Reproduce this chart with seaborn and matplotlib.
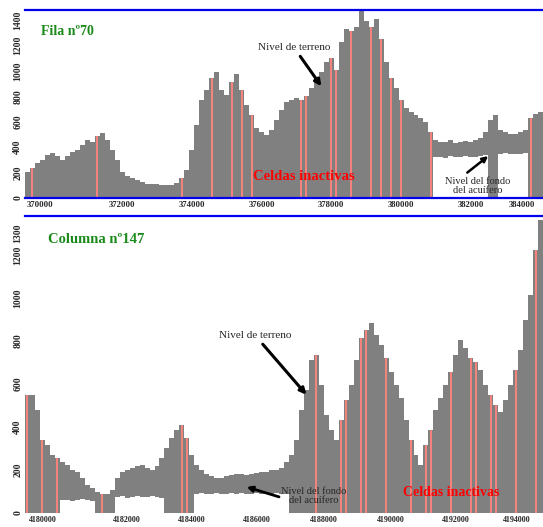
import numpy as np
import pandas as pd
import matplotlib
matplotlib.use("Agg")
import matplotlib.pyplot as plt
import seaborn as sns

sns.set_style("white")
plt.rcParams["font.family"] = ["Liberation Serif", "DejaVu Serif"]

# ---------------- data: Fila nº70 ----------------
fila_terreno = [205, 237, 277, 300, 340, 356, 332, 300, 332, 363,
                379, 419, 458, 442, 490, 514, 458, 379, 300, 205,
                174, 158, 142, 126, 111, 111, 111, 103, 103, 103,
                119, 158, 221, 379, 577, 774, 853, 948, 988, 853,
                814, 916, 980, 853, 735, 656, 553, 521, 498, 537,
                616, 695, 758, 774, 790, 774, 806, 869, 948, 995,
                1074, 1106, 1011, 1232, 1327, 1311, 1343, 1475, 1390, 1343,
                1406, 1248, 1074, 948, 869, 774, 711, 679, 656, 632,
                600, 521, 458, 442, 442, 458, 435, 442, 450, 442,
                458, 474, 521, 616, 656, 537, 521, 506, 506, 521,
                537, 632, 664, 679]
fila_fondo = [0] * 82 + [320, 325, 315, 330, 325, 320, 332, 325, 320, 330, 340,
                         0, 0, 350, 355, 350, 345, 350, 352, 0, 0, 0]
fila_rio = [1, 14, 31, 37, 41, 43, 45, 55, 56, 61, 62, 65, 69, 71, 73, 75, 81, 101]
fila_ticks = [2.5, 19, 33, 47, 61, 75, 89, 102]
fila_labels = ["370000", "372000", "374000", "376000", "378000", "380000", "382000", "384000"]
fila_yticks = [0, 200, 400, 600, 800, 1000, 1200, 1400]

# ---------------- data: Columna nº147 ----------------
col_terreno = [549, 549, 479, 339, 316, 270, 256, 237, 223, 200,
               191, 163, 130, 116, 98, 88, 88, 107, 163, 191,
               200, 209, 219, 223, 209, 200, 219, 256, 302, 349,
               386, 409, 349, 270, 223, 200, 181, 172, 163, 163,
               172, 177, 181, 181, 177, 181, 186, 191, 191, 200,
               200, 209, 237, 270, 339, 479, 572, 711, 735, 595,
               456, 386, 339, 432, 525, 595, 711, 814, 851, 884,
               828, 781, 721, 656, 595, 535, 432, 339, 270, 223,
               316, 386, 479, 535, 595, 656, 735, 804, 767, 721,
               702, 665, 595, 549, 502, 470, 525, 595, 665, 758,
               897, 1014, 1223, 1362]
col_fondo = ([0] * 7 + [60, 62, 58, 60, 63, 60, 58] + [0] * 4
             + [75, 78, 72, 75, 80, 76, 74, 78, 75, 72] + [0] * 6
             + [90, 92, 88, 90, 95, 90, 88, 92, 90, 94, 90, 88, 92, 90, 95, 90, 92, 88, 90]
             + [0] * 51)
col_rio = [0, 3, 6, 15, 31, 32, 58, 63, 64, 67, 68, 72, 77, 80, 81, 85, 89, 90, 93, 94, 98, 102]
col_ticks = [3, 20, 33, 46, 59.5, 73, 86, 101]
col_labels = ["4180000", "4182000", "4184000", "4186000", "4188000", "4190000", "4192000", "4194000"]
col_yticks = [0, 200, 400, 600, 800, 1000, 1200, 1300]

GRAY = "#808080"
SALMON = "#f4837d"
GREEN = "#1a8a1a"
BLUE = "#0000ee"

W, H = 543, 527
fig = plt.figure(figsize=(W / 100, H / 100), dpi=100)
ax1 = fig.add_axes([25 / W, (H - 198) / H, 518 / W, 188 / H])
ax2 = fig.add_axes([25 / W, (H - 513) / H, 518 / W, 297 / H])


def draw(ax, terreno, fondo, rio, ymax):
    n = len(terreno)
    idx = list(range(n))
    rio_h = [terreno[i] if i in rio else 0 for i in idx]
    df = pd.DataFrame({"i": idx, "terreno": terreno, "fondo": fondo, "rio": rio_h})
    sns.barplot(data=df, x="i", y="terreno", native_scale=True, color=GRAY,
                width=1.0, linewidth=0, errorbar=None, saturation=1, ax=ax)
    sns.barplot(data=df, x="i", y="rio", native_scale=True, color=SALMON,
                width=0.4, linewidth=0, errorbar=None, saturation=1, ax=ax)
    sns.barplot(data=df, x="i", y="fondo", native_scale=True, color="white",
                width=1.0, linewidth=0, errorbar=None, saturation=1, ax=ax)
    ax.set_xlim(-0.5, n - 0.5)
    ax.set_ylim(0, ymax)
    ax.set_xlabel("")
    ax.set_ylabel("")
    for s in ["left", "right"]:
        ax.spines[s].set_visible(False)


draw(ax1, fila_terreno, fila_fondo, fila_rio, 1480)
draw(ax2, col_terreno, col_fondo, col_rio, 1381)

for ax, ticks, labels, yt, xfs in [(ax1, fila_ticks, fila_labels, fila_yticks, 6.3),
                                   (ax2, col_ticks, col_labels, col_yticks, 5.8)]:
    ax.set_xticks(ticks)
    ax.set_xticklabels(labels, fontsize=xfs, fontweight="bold")
    ax.get_xticklabels()[-1].set_horizontalalignment("right")
    ax.set_yticks(yt)
    ax.set_yticklabels([str(v) for v in yt], fontsize=7, fontweight="bold",
                       rotation=90, va="center")
    ax.tick_params(axis="both", length=0, pad=2)

ax1.spines["top"].set_color(BLUE)
ax1.spines["top"].set_linewidth(1.6)
ax1.spines["bottom"].set_color(BLUE)
ax1.spines["bottom"].set_linewidth(1.6)
ax2.spines["top"].set_color(BLUE)
ax2.spines["top"].set_linewidth(1.6)
ax2.spines["bottom"].set_visible(False)

# Top panel annotations
ax1.text(0.03, 0.885, "Fila nº70", transform=ax1.transAxes, color=GREEN,
         fontsize=10, fontweight="bold", va="center", ha="left")
ax1.annotate("Nivel de terreno", xy=(59, 880), xytext=(53.5, 1150),
             fontsize=8, ha="center", va="bottom",
             arrowprops=dict(arrowstyle="-|>", color="black", lw=2.2, mutation_scale=9,
                             shrinkA=1, shrinkB=0))
ax1.text(55.5, 166, "Celdas inactivas", color="red", fontsize=10.5, fontweight="bold",
         ha="center", va="center")
ax1.text(90.3, 165, "Nivel del fondo\ndel acuífero", fontsize=7.5, ha="center",
         va="top", linespacing=1.0)
ax1.annotate("", xy=(92.5, 330), xytext=(88.3, 200),
             arrowprops=dict(arrowstyle="-|>", color="black", lw=1.8, mutation_scale=8,
                             shrinkA=0, shrinkB=0))

# Bottom panel annotations
ax2.text(0.045, 0.92, "Columna nº147", transform=ax2.transAxes, color=GREEN,
         fontsize=10.5, fontweight="bold", va="center", ha="left")
ax2.annotate("Nivel de terreno", xy=(56, 550), xytext=(45.7, 805),
             fontsize=8, ha="center", va="bottom",
             arrowprops=dict(arrowstyle="-|>", color="black", lw=2.2, mutation_scale=9,
                             shrinkA=1, shrinkB=0))
ax2.text(85, 93, "Celdas inactivas", color="red", fontsize=10, fontweight="bold",
         ha="center", va="center")
ax2.text(57.5, 79, "Nivel del fondo\ndel acuífero", fontsize=7.5, ha="center",
         va="center", linespacing=1.0)
ax2.annotate("", xy=(44, 121), xytext=(50.5, 75),
             arrowprops=dict(arrowstyle="-|>", color="black", lw=2.0, mutation_scale=8,
                             shrinkA=0, shrinkB=0))

fig.savefig("out.png", dpi=100)
